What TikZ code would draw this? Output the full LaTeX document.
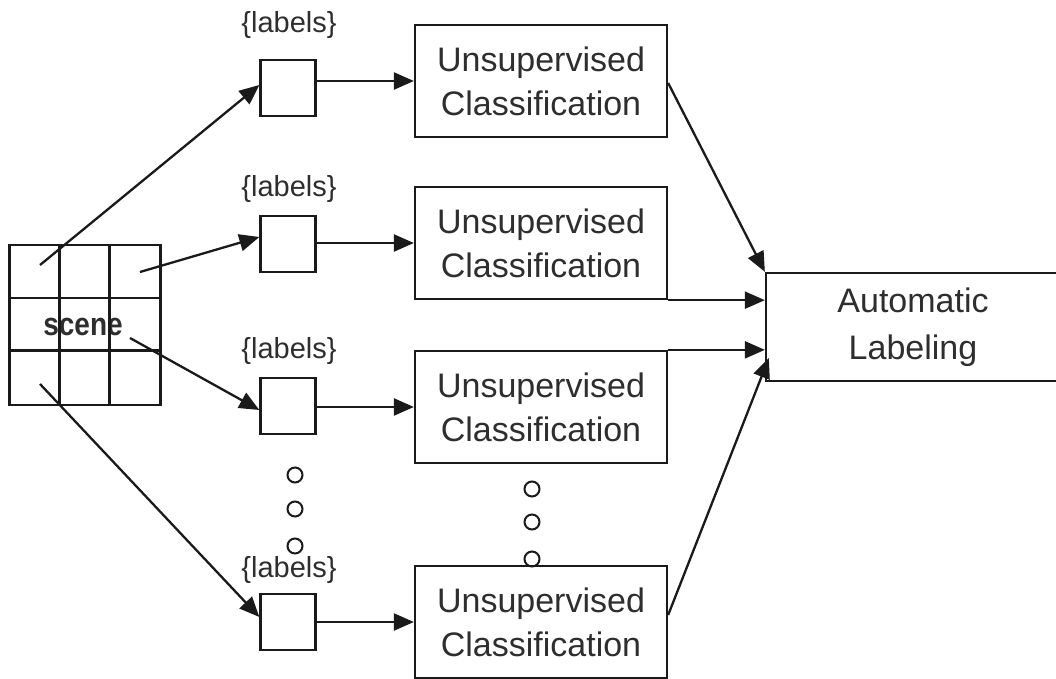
\documentclass[tikz,border=0pt]{standalone}
\usepackage{fontspec}
\setmainfont{Liberation Sans}
\usetikzlibrary{arrows.meta,calc}
\definecolor{ink}{HTML}{1A1A1A}
\definecolor{txt}{HTML}{2E2E2E}
\begin{document}
\begin{tikzpicture}[x=1pt,y=-1pt,line width=2.3pt,
  bigbox/.style={draw=ink,minimum width=252pt,minimum height=112pt,inner sep=0pt,
    align=center,text=txt,font=\fontsize{34}{44}\selectfont},
  smallbox/.style={draw=ink,minimum width=55pt,minimum height=56pt,inner sep=0pt},
  lbl/.style={font=\fontsize{29}{30}\selectfont,text=txt,inner sep=0pt,anchor=base},
  arr/.style={draw=ink,-{Triangle[length=20pt,width=17pt]}},
  dot/.style={draw=ink,circle,minimum size=15pt,inner sep=0pt,line width=2pt}]
\clip (0,0) rectangle (1056,679);
\fill[white] (0,0) rectangle (1056,679);

% scene grid
\node[font=\bfseries\fontsize{28}{30}\selectfont,text=txt,inner sep=0pt] (scenetxt) at (83,327) {\scalebox{1}[1.15]{scene}};
\node[draw=ink,minimum width=151pt,minimum height=160pt,inner sep=0pt] (scene) at (85,325) {};
\draw[ink] ($(scene.north west)+(51,0)$) -- ($(scene.south west)+(51,0)$);
\draw[ink] ($(scene.north west)+(101,0)$) -- ($(scene.south west)+(101,0)$);
\draw[ink] ($(scene.north west)+(0,54)$) -- ($(scene.north east)+(0,54)$);
\draw[ink,line width=3pt] ($(scene.north west)+(0,107)$) -- ($(scene.north east)+(0,107)$);
\coordinate (c1) at (40,265);
\coordinate (c2) at (140,272);
\coordinate (c3) at (130,338);
\coordinate (c4) at (40,384);

% label boxes
\node[smallbox] (s1) at (288,88) {};
\node[smallbox] (s2) at (288,244) {};
\node[smallbox] (s3) at (288,406) {};
\node[smallbox] (s4) at (288,622) {};
\node[lbl] (l1) at (289,33) {\{labels\}};
\node[lbl] (l2) at (289,196) {\{labels\}};
\node[lbl] (l3) at (289,358) {\{labels\}};
\node[lbl] (l4) at (289,577) {\{labels\}};

% classifiers
\node[bigbox] (b1) at (541,81) {Unsupervised\\Classification};
\node[bigbox] (b2) at (541,243) {Unsupervised\\Classification};
\node[bigbox] (b3) at (541,407) {Unsupervised\\Classification};
\node[bigbox] (b4) at (541,622) {Unsupervised\\Classification};

% final stage
\node[draw=ink,minimum width=294pt,minimum height=108pt,inner sep=0pt,align=center,
  text=txt,font=\fontsize{34}{47}\selectfont] (al) at (913,327) {Automatic\\Labeling};

% ellipsis dots
\node[dot] (d1) at (295,475) {};
\node[dot] (d2) at (295,509) {};
\node[dot] (d3) at (295,546) {};
\node[dot] (e1) at (532,489) {};
\node[dot] (e2) at (532,522) {};
\node[dot] (e3) at (532,559) {};

% scene to label boxes
\draw[arr] (c1) -- ($(s1.west)+(0,-3)$);
\draw[arr] (c2) -- ($(s2.west)+(0,-7)$);
\draw[arr] (c3) -- ($(s3.west)+(0,4)$);
\draw[arr] (c4) -- ($(s4.west)+(0,-5)$);

% label boxes to classifiers
\draw[arr] (s1.east |- b1.west) -- (b1.west);
\draw[arr] (s2.east |- b2.west) -- (b2.west);
\draw[arr] (s3.east |- b3.west) -- (b3.west);
\draw[arr] (s4.east |- b4.west) -- (b4.west);

% classifiers to labeling
\coordinate (al4) at ($(al.west)+(4,31)$);
\draw[arr] ($(b1.east)+(0,2)$) -- (al.north west);
\draw[arr] (b2.south east) -- (b2.south east -| al.west);
\draw[arr] (b3.north east) -- (b3.north east -| al.west);
\draw[arr] ($(b4.east)+(0,-7)$) -- (al4);
\end{tikzpicture}
\end{document}
